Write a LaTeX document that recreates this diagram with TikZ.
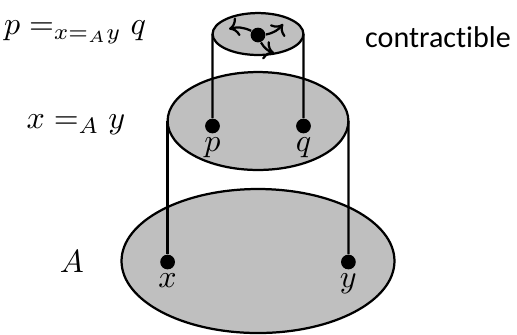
\documentclass[tikz,border=0pt]{standalone}
\usepackage{amsmath}
\usepackage{fontspec}
\newfontfamily\sanslabel[Ligatures={NoCommon}]{Carlito}
\usetikzlibrary{shapes.geometric,arrows.meta}

\begin{document}
\begin{tikzpicture}[x=0.3125pt, y=-0.3125pt,
    space/.style={ellipse, draw, fill=black!25, line width=0.7pt, inner sep=0pt, outer sep=0pt},
    pnt/.style={circle, fill, inner sep=0pt, minimum size=4.6pt},
    fibre/.style={line width=0.7pt}]
  \useasboundingbox (0,0) rectangle (517,334);
  % base space A
  \node[space, minimum width=85.3pt, minimum height=45pt] (base) at (258,261) {};
  \node[pnt, label={[inner sep=1pt]below:$x$}] (x) at (167.6,262) {};
  \node[pnt, label={[inner sep=1pt]below:$y$}] (y) at (348.4,262) {};
  % identity type x =_A y
  \node[space, minimum width=56.5pt, minimum height=30.6pt] (paths) at (258,121) {};
  \draw[fibre] (paths.west) -- (x);
  \draw[fibre] (paths.east) -- (y);
  \node[pnt, label={[inner sep=1pt]below:$p$}] (p) at (212.5,126) {};
  \node[pnt, label={[inner sep=1pt]below:$q$}] (q) at (303.5,126) {};
  % identity type p = q, contractible
  \node[space, minimum width=28.4pt, minimum height=13.1pt] (homs) at (258,34) {};
  \draw[fibre] (homs.west) -- (p);
  \draw[fibre] (homs.east) -- (q);
  \node[pnt] (c) at (258,35) {};
  \coordinate (c1) at (229,29);
  \coordinate (c2) at (283,24);
  \coordinate (c3) at (274,53);
  \foreach \e in {c1,c2,c3}
    \draw[fibre, -{To[length=3pt,width=6pt]}, bend right=20] (c) to (\e);
  % labels
  \node (eqpq) at (75,32) {$p =_{x =_A y} q$};
  \node (eqxy) at (76,125) {$x =_A y$};
  \node (nameA) at (72,262) {$A$};
  \node[font=\sanslabel\fontsize{9.4}{11}\selectfont] (contr) at (438,37) {contractible};
\end{tikzpicture}
\end{document}
